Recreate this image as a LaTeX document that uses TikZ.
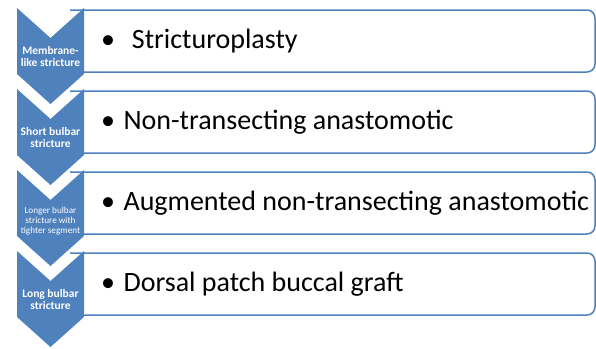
\documentclass[tikz,border=0pt]{standalone}
\usepackage{fontspec}
\setmainfont{Carlito}
\definecolor{chev}{HTML}{4F81BD}
\definecolor{rectline}{HTML}{4F81BD}
\begin{document}
\begin{tikzpicture}[x=1pt,y=-1pt,
  chevshape/.style={fill=chev,draw=none},
  boxshape/.style={draw=rectline,line width=1.5pt,fill=white,rounded corners=8pt},
  chevtext/.style={text=white,align=center,font=\fontsize{11.5}{12}\selectfont\bfseries,inner sep=0pt},
  chevsmall/.style={text=white,align=center,font=\fontsize{9.2}{10}\selectfont,inner sep=0pt},
  boxtext/.style={anchor=west,text=black,font=\fontsize{28}{32}\selectfont,inner sep=0pt}
]
\useasboundingbox (0,0) rectangle (596,348);
\foreach \t in {8,89,170,251}{
  \draw[boxshape] (70,\t+2) -- (595,\t+2) -- (595,\t+64) -- (70,\t+64);
  \fill[chevshape] (17,\t) -- (50.5,\t+30) -- (84,\t) -- (84,\t+66) -- (50.5,\t+96) -- (17,\t+66) -- cycle;
}
\node[chevtext] (c1) at (50.5,57) {Membrane-\\like stricture};
\node[chevtext] (c2) at (50.5,138) {Short bulbar\\stricture};
\node[chevsmall] (c3) at (50.5,221) {Longer bulbar\\stricture with\\tighter segment};
\node[chevtext] (c4) at (50.5,300) {Long bulbar\\stricture};
\node[boxtext] (b1) at (101,41) {•\hspace{0.6em}Stricturoplasty};
\node[boxtext] (b2) at (101,122) {•\hspace{0.3em}Non-transecting anastomotic};
\node[boxtext] (b3) at (101,203) {•\hspace{0.3em}Augmented non-transecting anastomotic};
\node[boxtext] (b4) at (101,284) {•\hspace{0.3em}Dorsal patch buccal graft};
\end{tikzpicture}
\end{document}
